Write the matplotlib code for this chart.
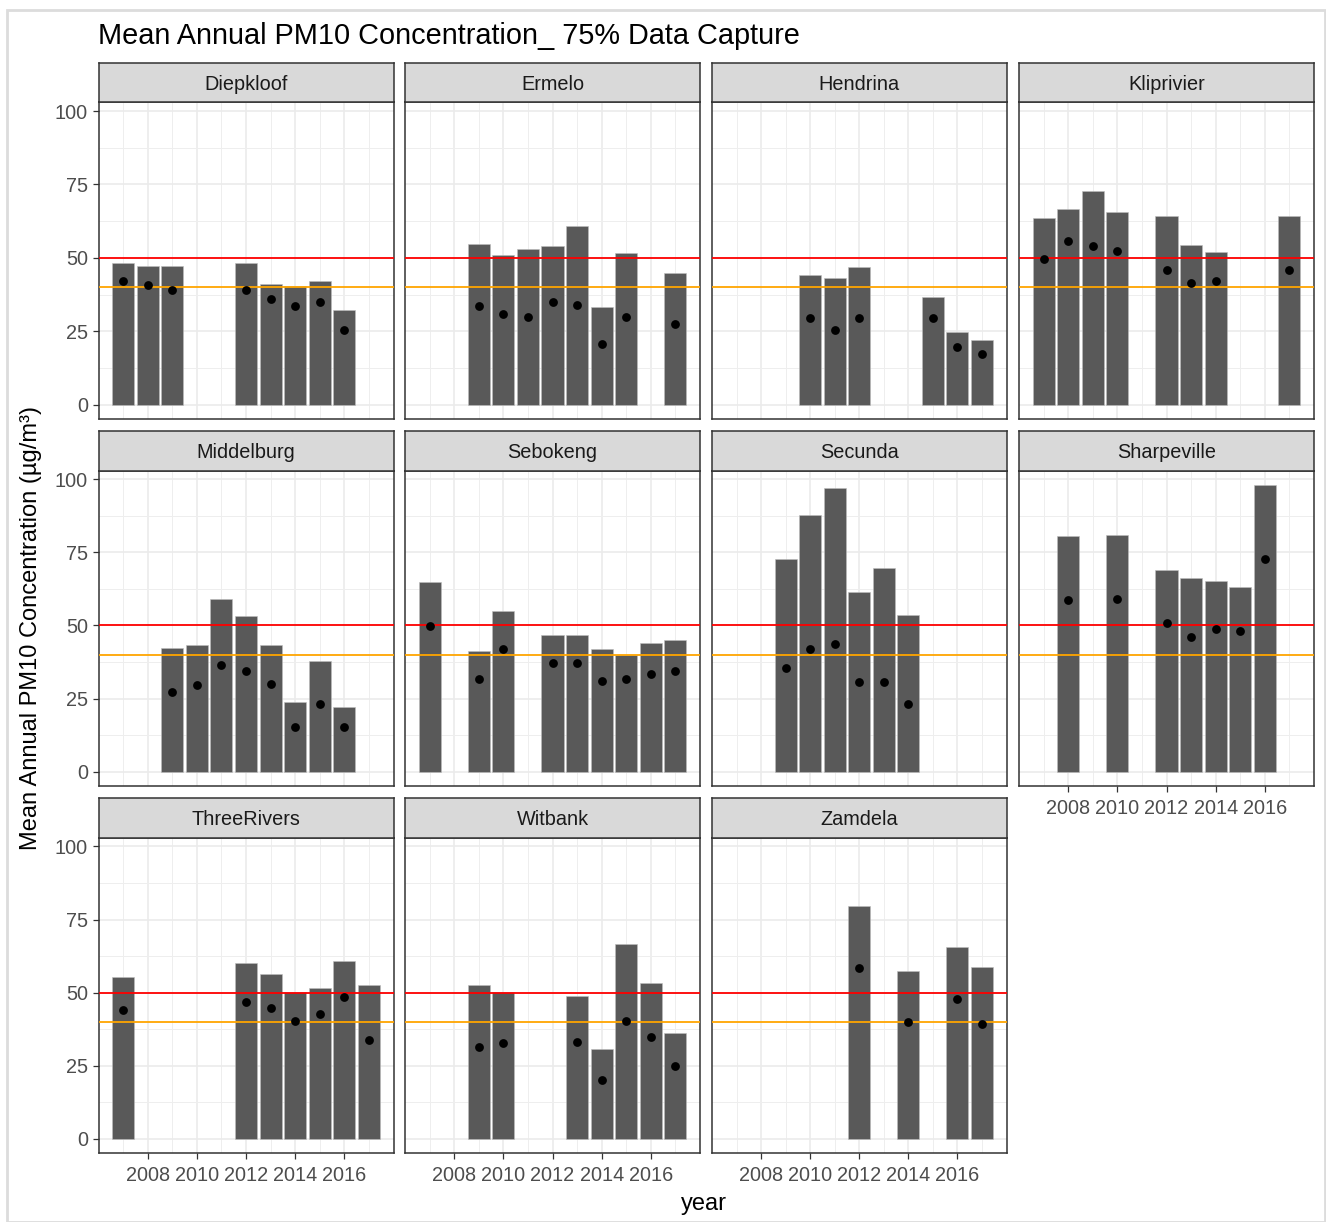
import matplotlib
matplotlib.use('Agg')
import matplotlib.pyplot as plt
from matplotlib.patches import Rectangle
from matplotlib.ticker import FixedLocator

plt.rcParams['font.family'] = ['Liberation Sans', 'DejaVu Sans']

# ---------------- data ----------------
stations = ["Diepkloof", "Ermelo", "Hendrina", "Kliprivier", "Middelburg", "Sebokeng",
            "Secunda", "Sharpeville", "ThreeRivers", "Witbank", "Zamdela"]

diepkloof_years = [2007, 2008, 2009, 2012, 2013, 2014, 2015, 2016]
diepkloof_bar = [48.2, 47.1, 47.1, 48.2, 41.0, 40.5, 42.1, 32.2]
diepkloof_mean = [42.0, 40.9, 39.1, 39.1, 35.9, 33.7, 34.8, 25.5]

ermelo_years = [2009, 2010, 2011, 2012, 2013, 2014, 2015, 2017]
ermelo_bar = [54.6, 50.9, 52.9, 54.1, 60.7, 33.3, 51.8, 44.8]
ermelo_mean = [33.7, 30.8, 29.8, 34.8, 34.1, 20.5, 29.8, 27.6]

hendrina_years = [2010, 2011, 2012, 2015, 2016, 2017]
hendrina_bar = [44.3, 43.2, 46.9, 36.6, 24.6, 21.9]
hendrina_mean = [29.4, 25.5, 29.4, 29.4, 19.5, 17.2]

kliprivier_years = [2007, 2008, 2009, 2010, 2012, 2013, 2014, 2017]
kliprivier_bar = [63.5, 66.8, 72.8, 65.6, 64.1, 54.3, 52.0, 64.1]
kliprivier_mean = [49.5, 55.6, 54.0, 52.3, 45.7, 41.4, 42.0, 45.7]

middelburg_years = [2009, 2010, 2011, 2012, 2013, 2014, 2015, 2016]
middelburg_bar = [42.2, 43.4, 59.2, 53.2, 43.4, 23.8, 37.9, 22.1]
middelburg_mean = [27.4, 29.7, 36.6, 34.4, 30.1, 15.3, 23.0, 15.3]

sebokeng_years = [2007, 2009, 2010, 2012, 2013, 2014, 2015, 2016, 2017]
sebokeng_bar = [64.8, 41.1, 54.9, 46.7, 46.7, 41.8, 39.9, 44.0, 45.0]
sebokeng_mean = [49.7, 31.7, 42.1, 37.3, 37.3, 31.1, 31.7, 33.4, 34.4]

secunda_years = [2009, 2010, 2011, 2012, 2013, 2014]
secunda_bar = [72.9, 87.8, 96.9, 61.5, 69.6, 53.7]
secunda_mean = [35.6, 42.1, 43.7, 30.6, 30.6, 23.0]

sharpeville_years = [2008, 2010, 2012, 2013, 2014, 2015, 2016]
sharpeville_bar = [80.6, 81.1, 69.1, 66.4, 65.3, 63.1, 98.1]
sharpeville_mean = [58.6, 59.1, 51.0, 46.0, 48.7, 48.2, 72.7]

threerivers_years = [2007, 2012, 2013, 2014, 2015, 2016, 2017]
threerivers_bar = [55.3, 60.2, 56.4, 50.4, 51.5, 60.7, 52.7]
threerivers_mean = [44.2, 46.9, 44.7, 40.3, 42.6, 48.6, 33.7]

witbank_years = [2009, 2010, 2013, 2014, 2015, 2016, 2017]
witbank_bar = [52.7, 50.4, 48.8, 30.8, 66.8, 53.2, 36.2]
witbank_mean = [31.6, 32.7, 33.3, 20.2, 40.4, 34.9, 25.1]

zamdela_years = [2012, 2014, 2016, 2017]
zamdela_bar = [79.8, 57.5, 65.7, 58.7]
zamdela_mean = [58.6, 40.0, 48.0, 39.2]

station_data = {
    "Diepkloof": (diepkloof_years, diepkloof_bar, diepkloof_mean),
    "Ermelo": (ermelo_years, ermelo_bar, ermelo_mean),
    "Hendrina": (hendrina_years, hendrina_bar, hendrina_mean),
    "Kliprivier": (kliprivier_years, kliprivier_bar, kliprivier_mean),
    "Middelburg": (middelburg_years, middelburg_bar, middelburg_mean),
    "Sebokeng": (sebokeng_years, sebokeng_bar, sebokeng_mean),
    "Secunda": (secunda_years, secunda_bar, secunda_mean),
    "Sharpeville": (sharpeville_years, sharpeville_bar, sharpeville_mean),
    "ThreeRivers": (threerivers_years, threerivers_bar, threerivers_mean),
    "Witbank": (witbank_years, witbank_bar, witbank_mean),
    "Zamdela": (zamdela_years, zamdela_bar, zamdela_mean),
}

limit_annual = 50
limit_2015 = 40
x_ticks = [2008, 2010, 2012, 2014, 2016]
y_ticks = [0, 25, 50, 75, 100]

# ---------------- layout ----------------
W, H = 1326, 1222
fig = plt.figure(figsize=(W / 100, H / 100), dpi=100)
fig.patch.set_facecolor('white')

def frac(x0, y0, x1, y1):
    return [x0 / W, 1 - y1 / H, (x1 - x0) / W, (y1 - y0) / H]

col_l = [98.5, 405, 712, 1019]
col_r = [393.5, 700, 1006.5, 1314]
rows = [(63.3, 102.3, 419), (430.5, 470.5, 786), (797.5, 837.7, 1153.3)]

fig.add_artist(Rectangle((7 / W, 0), (1325 - 7) / W, 1 - 10 / H, transform=fig.transFigure,
                         fill=False, edgecolor='#DCDCDC', linewidth=2))

TICK_FS = 14.3
for i, st in enumerate(stations):
    r, c = divmod(i, 4)
    st_top, st_bot, p_bot = rows[r]
    ax = fig.add_axes(frac(col_l[c], st_bot, col_r[c], p_bot))
    sax = fig.add_axes(frac(col_l[c], st_top, col_r[c], st_bot))
    sax.set_facecolor('#D9D9D9')
    sax.set_xticks([]); sax.set_yticks([])
    for s in sax.spines.values():
        s.set_color('#333333'); s.set_linewidth(1.1)
    sax.text(0.5, 0.45, st, ha='center', va='center', fontsize=TICK_FS, color='#1A1A1A',
             transform=sax.transAxes)

    yrs, bars, means = station_data[st]
    ax.set_axisbelow(True)
    ax.bar(yrs, bars, width=0.9, color='#595959', edgecolor='#BDBDBD', linewidth=0.4, zorder=2)
    ax.axhline(limit_annual, color='#FF0000', linewidth=1.3, zorder=3)
    ax.axhline(limit_2015, color='#FFA500', linewidth=1.3, zorder=3)
    ax.scatter(yrs, means, s=40, color='black', zorder=4, linewidths=0)

    ax.set_xlim(2006.0, 2018.0)
    ax.set_ylim(-4.9, 103.0)
    ax.xaxis.set_major_locator(FixedLocator(x_ticks))
    ax.xaxis.set_minor_locator(FixedLocator([2007, 2009, 2011, 2013, 2015, 2017]))
    ax.yaxis.set_major_locator(FixedLocator(y_ticks))
    ax.yaxis.set_minor_locator(FixedLocator([12.5, 37.5, 62.5, 87.5]))
    ax.grid(which='major', color='#EBEBEB', linewidth=1.2)
    ax.grid(which='minor', color='#EEEEEE', linewidth=0.7)
    for s in ax.spines.values():
        s.set_color('#333333'); s.set_linewidth(1.1)
    ax.tick_params(which='minor', length=0)
    ax.tick_params(which='major', length=4.5, width=0.9, color='#333333',
                   labelsize=TICK_FS, labelcolor='#4D4D4D', pad=3)
    ax.tick_params(axis='x', pad=5)

    bottom_panel = (r == 2) or (r == 1 and c == 3)
    if not bottom_panel:
        ax.tick_params(axis='x', length=0, labelbottom=False)
    if c != 0:
        ax.tick_params(axis='y', length=0, labelleft=False)

fig.text(98 / W, 1 - 36 / H, "Mean Annual PM10 Concentration_ 75% Data Capture",
         ha='left', va='center', fontsize=20.8, color='black')
fig.text(31 / W, 1 - 628 / H, "Mean Annual PM10 Concentration (\u00b5g/m\u00b3)",
         ha='center', va='center', rotation=90, fontsize=17, color='black')
fig.text(704 / W, 1 - 1204 / H, "year", ha='center', va='center', fontsize=17, color='black')

fig.savefig('out.png', dpi=100)
